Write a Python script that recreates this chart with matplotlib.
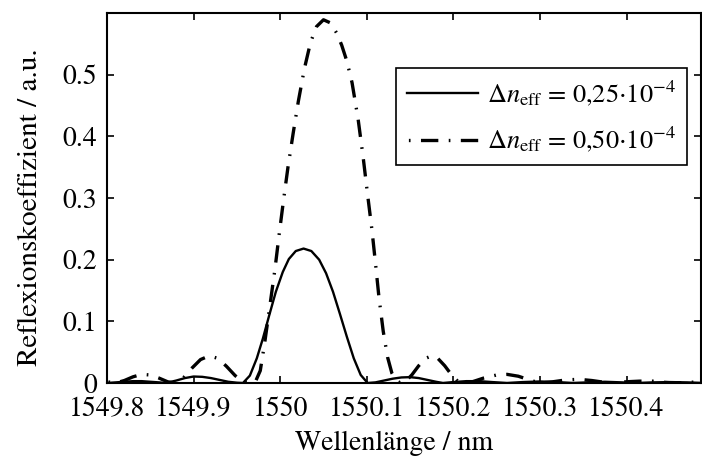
import matplotlib
matplotlib.use("Agg")
import matplotlib.pyplot as plt

plt.rcParams['font.family'] = ['STIXGeneral', 'DejaVu Serif']
plt.rcParams['mathtext.fontset'] = 'stix'
plt.rcParams['lines.scale_dashes'] = False

# Reflexionsspektrum, Werte
wl_a = [1549.800, 1549.810, 1549.820, 1549.830, 1549.840, 1549.850, 1549.860, 1549.868,
        1549.880, 1549.890, 1549.900, 1549.910, 1549.920, 1549.930, 1549.940, 1549.950,
        1549.957, 1549.965, 1549.973, 1549.980, 1549.987, 1549.995, 1550.003, 1550.010,
        1550.018, 1550.027, 1550.036, 1550.045, 1550.053, 1550.061, 1550.069, 1550.077,
        1550.085, 1550.093, 1550.101, 1550.110, 1550.120, 1550.130, 1550.140, 1550.150,
        1550.160, 1550.170, 1550.180, 1550.188, 1550.200, 1550.215, 1550.230, 1550.245,
        1550.262, 1550.280, 1550.300, 1550.320, 1550.338, 1550.355, 1550.375, 1550.395,
        1550.412, 1550.430, 1550.450, 1550.470, 1550.490]
r_a = [0.000, 0.001, 0.002, 0.003, 0.003, 0.002, 0.001, 0.000,
       0.004, 0.008, 0.0105, 0.010, 0.008, 0.005, 0.002, 0.0005,
       0.000, 0.012, 0.040, 0.072, 0.108, 0.148, 0.180, 0.201,
       0.214, 0.218, 0.214, 0.200, 0.178, 0.148, 0.112, 0.075,
       0.040, 0.013, 0.000, 0.001, 0.004, 0.007, 0.009, 0.0095,
       0.008, 0.005, 0.002, 0.000, 0.0015, 0.003, 0.003, 0.0015,
       0.000, 0.0015, 0.0025, 0.0015, 0.000, 0.001, 0.002, 0.001,
       0.000, 0.001, 0.0015, 0.001, 0.000]

wl_b = [1549.800, 1549.810, 1549.820, 1549.830, 1549.840, 1549.850, 1549.860, 1549.870,
        1549.878, 1549.888, 1549.898, 1549.908, 1549.918, 1549.928, 1549.938, 1549.948,
        1549.957, 1549.968, 1549.972, 1549.977, 1549.982, 1549.988, 1549.994, 1549.999,
        1550.004, 1550.009, 1550.015, 1550.021, 1550.028, 1550.035, 1550.042, 1550.050,
        1550.058, 1550.065, 1550.071, 1550.077, 1550.083, 1550.090, 1550.096, 1550.101,
        1550.106, 1550.110, 1550.114, 1550.119, 1550.124, 1550.129, 1550.134, 1550.139,
        1550.145, 1550.152, 1550.160, 1550.168, 1550.175, 1550.182, 1550.190, 1550.198,
        1550.205, 1550.212, 1550.222, 1550.235, 1550.250, 1550.262, 1550.275, 1550.290,
        1550.300, 1550.315, 1550.330, 1550.345, 1550.360, 1550.375, 1550.385, 1550.400,
        1550.415, 1550.430, 1550.445, 1550.455, 1550.470, 1550.490]
r_b = [0.002, 0.000, 0.004, 0.010, 0.014, 0.013, 0.008, 0.002,
       0.000, 0.008, 0.024, 0.038, 0.044, 0.040, 0.027, 0.012,
       0.002, 0.000, 0.004, 0.020, 0.064, 0.124, 0.185, 0.243,
       0.298, 0.350, 0.405, 0.457, 0.510, 0.552, 0.578, 0.589,
       0.584, 0.568, 0.548, 0.522, 0.487, 0.428, 0.364, 0.305,
       0.248, 0.195, 0.140, 0.084, 0.042, 0.016, 0.004, 0.000,
       0.003, 0.013, 0.028, 0.040, 0.044, 0.040, 0.028, 0.013,
       0.003, 0.000, 0.002, 0.008, 0.013, 0.014, 0.011, 0.004,
       0.000, 0.002, 0.005, 0.006, 0.004, 0.001, 0.000, 0.002,
       0.003, 0.003, 0.001, 0.000, 0.001, 0.002]

xticks = [1549.8, 1549.9, 1550.0, 1550.1, 1550.2, 1550.3, 1550.4]
xtick_labels = ['1549.8', '1549.9', '1550', '1550.1', '1550.2', '1550.3', '1550.4']
yticks = [0, 0.1, 0.2, 0.3, 0.4, 0.5]
ytick_labels = ['0', '0.1', '0.2', '0.3', '0.4', '0.5']

fig = plt.figure(figsize=(7.02, 4.66), dpi=100)
ax = fig.add_axes([107 / 702, 83 / 466, 594 / 702, 370 / 466])

ax.plot(wl_a, r_a, color='black', linewidth=1.7, linestyle='-',
        label=r'$\Delta n_{\mathrm{eff}}$ = 0,25$\cdot$10$^{-4}$')
ax.plot(wl_b, r_b, color='black', linewidth=2.4, linestyle=(19, (12.5, 7.5, 1.2, 7.5)),
        label=r'$\Delta n_{\mathrm{eff}}$ = 0,50$\cdot$10$^{-4}$')

ax.set_xlim(1549.8, 1550.486)
ax.set_ylim(0, 0.6)
ax.set_xticks(xticks)
ax.set_xticklabels(xtick_labels)
ax.set_yticks(yticks)
ax.set_yticklabels(ytick_labels)
ax.tick_params(direction='in', top=True, right=True, length=5, width=1.2, labelsize=20)
ax.tick_params(axis='x', pad=10)
ax.tick_params(axis='y', pad=7)
for s in ax.spines.values():
    s.set_linewidth(1.5)

ax.set_xlabel('Wellenlänge / nm', fontsize=20)
ax.set_ylabel('Reflexionskoeffizient / a.u.', fontsize=21)
ax.xaxis.set_label_coords(0.483, -0.128)
ax.yaxis.set_label_coords(-0.108, 0.476)

leg = ax.legend(loc='upper right', bbox_to_anchor=(0.976, 0.851), borderaxespad=0,
                fontsize=19, handlelength=2.7, handletextpad=0.35, labelspacing=0.65,
                borderpad=0.4, fancybox=False, framealpha=1)
leg.get_frame().set_edgecolor('black')
leg.get_frame().set_linewidth(1.2)

fig.savefig('out.png', dpi=100)
